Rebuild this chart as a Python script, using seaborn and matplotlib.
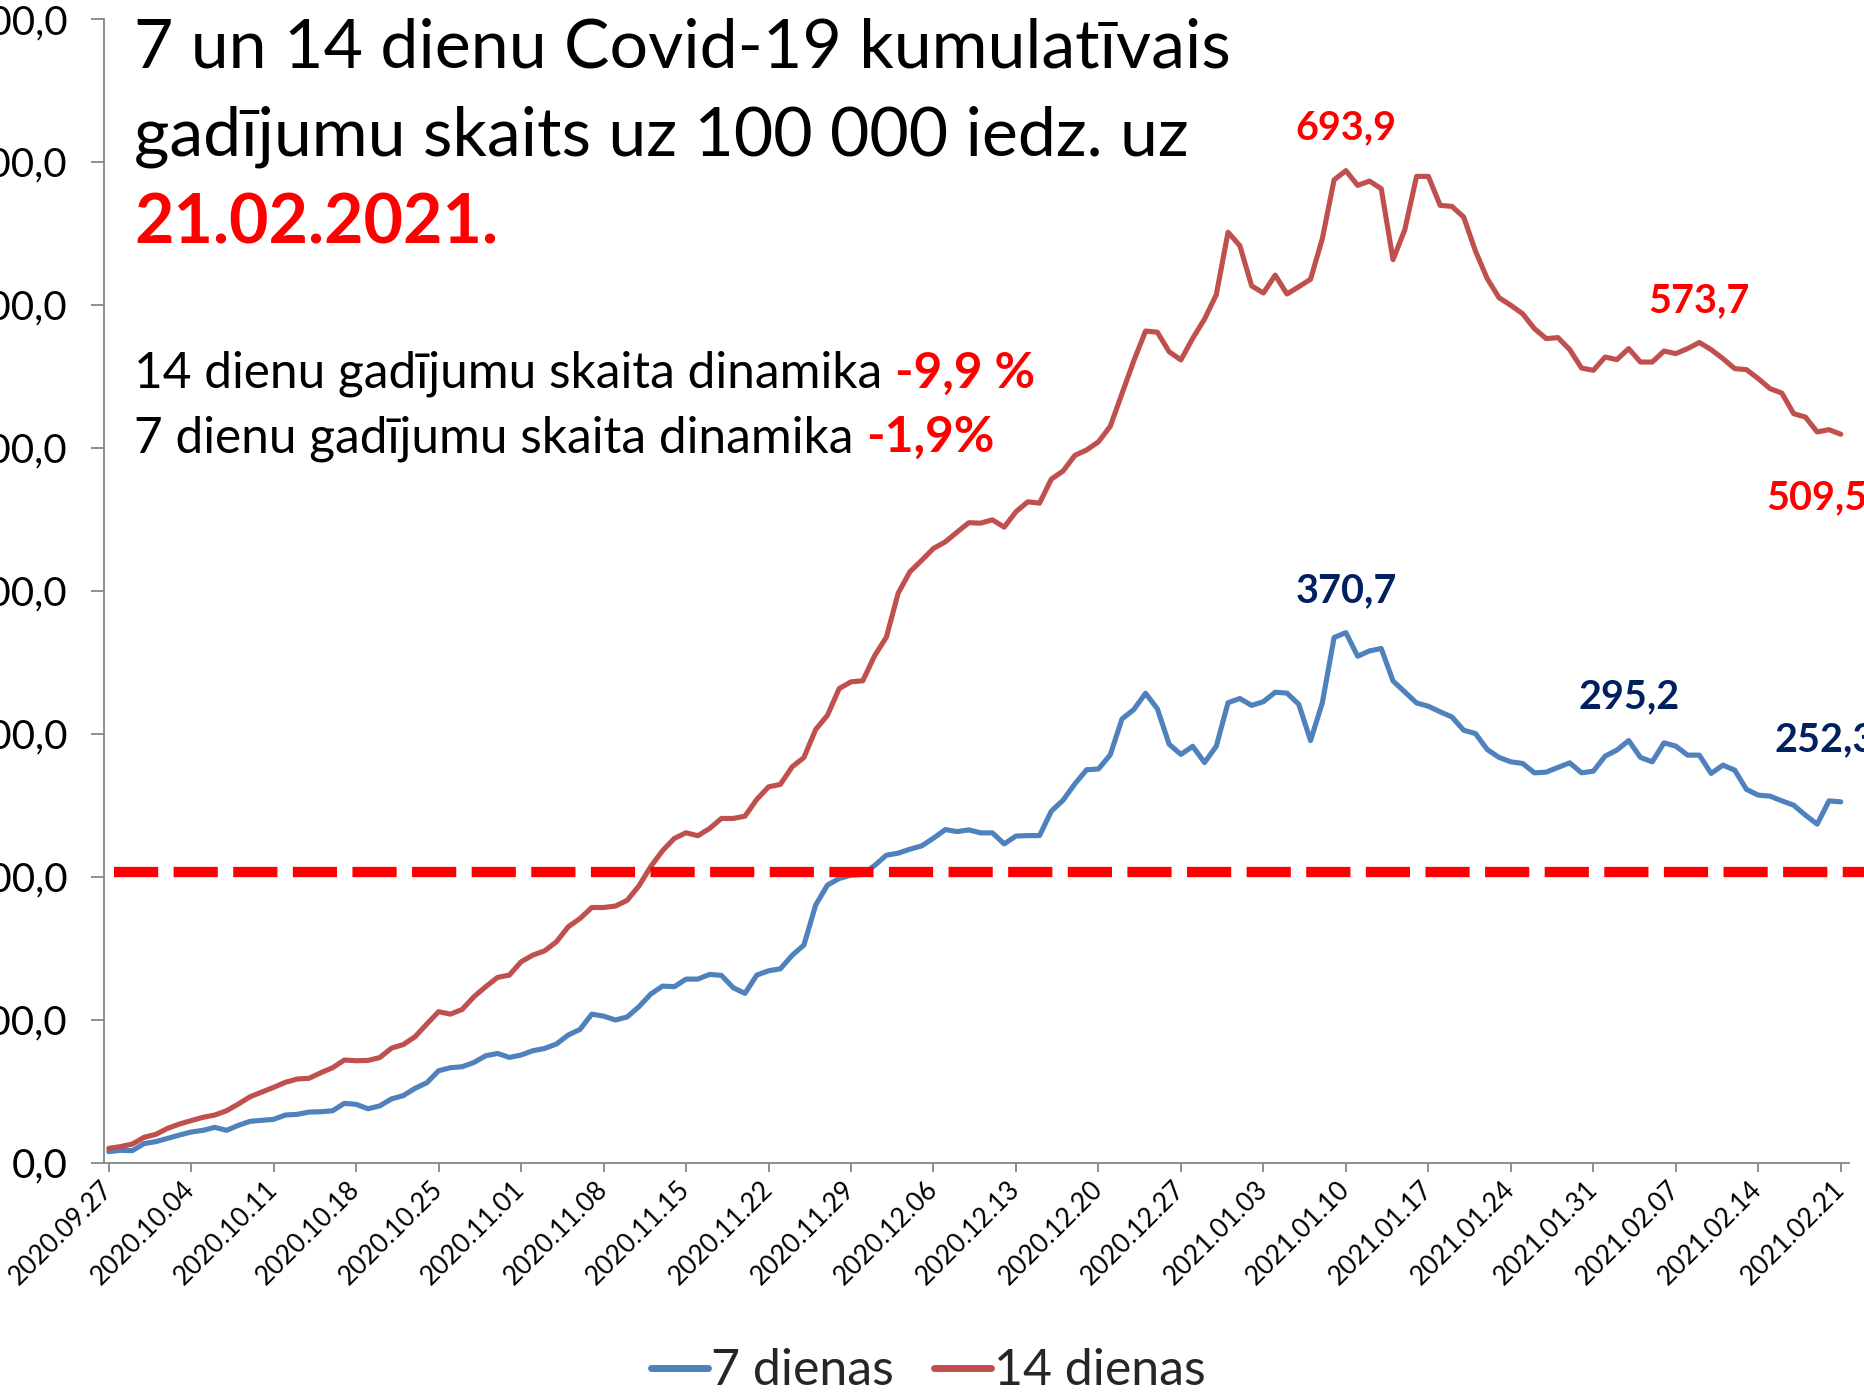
import numpy as np
import pandas as pd
import matplotlib
matplotlib.use("Agg")
import matplotlib.pyplot as plt
import seaborn as sns
from matplotlib.lines import Line2D

# ---------------- data ----------------
tick_labels = ["2020.09.27", "2020.10.04", "2020.10.11", "2020.10.18", "2020.10.25",
               "2020.11.01", "2020.11.08", "2020.11.15", "2020.11.22", "2020.11.29",
               "2020.12.06", "2020.12.13", "2020.12.20", "2020.12.27", "2021.01.03",
               "2021.01.10", "2021.01.17", "2021.01.24", "2021.01.31", "2021.02.07",
               "2021.02.14", "2021.02.21"]

days_7 = [7.6, 8.5, 8.3, 13.2, 14.6, 16.9, 19.2, 21.3, 22.5, 24.6,
          22.5, 26.0, 28.8, 29.5, 30.2, 33.2, 33.7, 35.3, 35.5, 36.2,
          41.4, 40.7, 37.6, 39.6, 44.5, 46.8, 51.9, 55.8, 64.2, 66.3,
          67.0, 70.0, 74.7, 76.3, 73.5, 75.2, 78.2, 79.8, 82.9, 89.2,
          93.1, 103.8, 102.4, 99.7, 101.8, 109.0, 117.8, 123.4, 123.0, 128.3,
          128.3, 131.6, 130.9, 122.3, 118.3, 131.1, 134.1, 135.5, 144.9, 152.1,
          180.1, 194.1, 198.7, 201.0, 201.5, 207.8, 215.0, 216.4, 219.2, 221.5,
          226.9, 232.9, 231.5, 232.7, 230.6, 230.6, 222.9, 228.4, 228.7, 228.7,
          245.8, 253.5, 264.9, 274.8, 275.3, 285.2, 310.3, 316.9, 328.3, 317.4,
          292.6, 285.5, 291.2, 279.8, 291.2, 321.7, 324.6, 319.8, 322.4, 329.0,
          328.4, 320.6, 295.2, 321.6, 367.3, 370.7, 354.2, 357.9, 359.6, 336.9,
          329.2, 321.5, 319.2, 315.3, 311.7, 302.4, 300.1, 288.9, 283.4, 280.3,
          279.2, 272.6, 273.1, 276.4, 279.6, 272.6, 273.8, 284.3, 288.5, 295.2,
          283.4, 280.3, 293.6, 291.3, 285.0, 285.0, 272.2, 278.0, 274.5, 261.0,
          257.0, 256.3, 253.0, 250.0, 243.0, 236.7, 253.0, 252.3]

days_14 = [9.9, 11.1, 12.9, 17.6, 19.7, 23.9, 26.9, 29.3, 31.6, 33.2,
           36.2, 40.9, 46.0, 49.3, 52.6, 56.1, 58.4, 58.9, 62.8, 66.3,
           71.7, 71.2, 71.4, 73.4, 80.0, 82.5, 88.0, 96.9, 105.5, 103.8,
           107.1, 116.0, 123.0, 129.5, 131.1, 140.4, 145.1, 148.1, 154.4, 164.9,
           170.7, 178.4, 178.4, 179.4, 183.4, 193.5, 207.0, 218.1, 226.7, 230.7,
           228.6, 233.7, 240.7, 240.7, 242.3, 254.0, 262.8, 264.5, 276.8, 283.3,
           302.9, 312.9, 331.6, 336.3, 337.0, 354.5, 367.5, 398.2, 413.3, 421.3,
           429.6, 434.2, 441.0, 447.6, 447.3, 449.6, 444.5, 455.3, 462.2, 461.3,
           478.1, 483.8, 494.7, 498.5, 504.2, 515.0, 538.0, 560.9, 581.7, 580.9,
           567.2, 561.5, 576.6, 590.0, 607.1, 650.8, 641.4, 613.3, 608.3, 620.8,
           607.6, 612.7, 617.9, 646.3, 687.5, 693.9, 683.6, 686.6, 681.3, 631.6,
           652.6, 689.9, 689.9, 669.6, 668.9, 661.4, 637.6, 618.3, 605.0, 599.7,
           593.8, 583.4, 576.4, 577.1, 568.7, 555.8, 554.2, 563.5, 561.7, 569.4,
           560.0, 560.0, 567.7, 565.9, 569.4, 573.7, 568.7, 562.4, 555.4, 554.7,
           548.4, 541.4, 538.3, 523.9, 521.5, 511.1, 512.7, 509.5]

series_names = ["7 dienas", "14 dienas"]
threshold = 203
y_ticks = [0, 100, 200, 300, 400, 500, 600, 700, 800]

# labelled points: (day index, text)
labels_7 = [(105, "370,7"), (129, "295,2"), (147, "252,3")]
labels_14 = [(105, "693,9"), (135, "573,7"), (147, "509,5")]

# ---------------- style ----------------
BLUE = "#4F81BD"
RED = "#C0504D"
NAVY = "#002060"
BRIGHT_RED = "#FF0000"
GRAY = "#868686"

sns.set_theme(style="white")
plt.rcParams["font.family"] = ["Lato", "DejaVu Sans"]

W, H, DPI = 1864, 1397, 100
fig = plt.figure(figsize=(W / DPI, H / DPI), dpi=DPI)
ax = fig.add_axes([104 / W, (H - 1162.5) / H, (1849 - 104) / W, (1162.5 - 19) / H])

n = len(days_7)
idx = np.arange(n)
df = pd.DataFrame({
    "day": np.concatenate([idx, idx]),
    "value": np.concatenate([days_7, days_14]),
    "series": [series_names[0]] * n + [series_names[1]] * n,
})
sns.lineplot(data=df, x="day", y="value", hue="series",
             palette={series_names[0]: BLUE, series_names[1]: RED},
             linewidth=3.7, ax=ax, legend=False)
for ln in ax.get_lines():
    ln.set_solid_joinstyle("round")
    ln.set_solid_capstyle("round")

# threshold dashed line
ax.plot([0.0057, 1.02], [threshold, threshold], transform=ax.get_yaxis_transform(),
        color=BRIGHT_RED, linewidth=7.4, linestyle=(0, (4.3, 1.5)),
        solid_capstyle="butt", dash_capstyle="butt", clip_on=False, zorder=5)

ax.set_xlim(-0.4, 147.7)
ax.set_ylim(0, 800)
ax.set_xticks(np.arange(0, n, 7))
ax.set_xticklabels(tick_labels, fontsize=19, rotation=45, ha="right",
                   rotation_mode="anchor", va="center")
ax.set_yticks(y_ticks)
ax.set_yticklabels([f"{v:.1f}".replace(".", ",") for v in y_ticks], fontsize=29)
ax.set_xlabel("")
ax.set_ylabel("")
ax.grid(False)
for s in ["top", "right"]:
    ax.spines[s].set_visible(False)
for s in ["left", "bottom"]:
    ax.spines[s].set_color(GRAY)
    ax.spines[s].set_linewidth(1.3)
ax.tick_params(axis="y", direction="out", length=9.4, width=1.3, color=GRAY, pad=17,
               left=True, labelcolor="black")
ax.tick_params(axis="x", direction="out", length=6.5, width=1.3, color=GRAY, pad=10,
               bottom=True, labelcolor="black")

# data labels
lab_kw = dict(textcoords="offset pixels", ha="center", va="center",
              fontsize=28.5, fontweight="bold", annotation_clip=False)
offs_7 = {105: (0, 42), 129: (0, 44), 147: (-16, 62)}
offs_14 = {105: (0, 43), 135: (0, 42), 147: (-24, -63)}
for i, t in labels_7:
    ax.annotate(t, xy=(i, days_7[i]), xytext=offs_7[i], color=NAVY, **lab_kw)
for i, t in labels_14:
    ax.annotate(t, xy=(i, days_14[i]), xytext=offs_14[i], color=BRIGHT_RED, **lab_kw)

# titles
x0 = 134 / W
fig.text(x0, (H - 68) / H, "7 un 14 dienu Covid-19 kumulatīvais", fontsize=49,
         color="black", va="baseline", ha="left")
fig.text(x0, (H - 156) / H, "gadījumu skaits uz 100 000 iedz. uz", fontsize=49,
         color="black", va="baseline", ha="left")
fig.text(x0, (H - 244) / H, "21.02.2021.", fontsize=49, fontweight="bold",
         color=BRIGHT_RED, va="baseline", ha="left")

fig.canvas.draw()
renderer = fig.canvas.get_renderer()
for base_y, txt, red in [(387.5, "14 dienu gadījumu skaita dinamika ", "-9,9 %"),
                         (452, "7 dienu gadījumu skaita dinamika ", "-1,9%")]:
    t = fig.text(x0, (H - base_y) / H, txt, fontsize=35.7, color="black",
                 va="baseline", ha="left")
    bb = t.get_window_extent(renderer=renderer)
    fig.text(bb.x1 / W, (H - base_y) / H, red, fontsize=35.7, fontweight="bold",
             color=BRIGHT_RED, va="baseline", ha="left")

# legend
handles = [Line2D([], [], color=BLUE, linewidth=5),
           Line2D([], [], color=RED, linewidth=5)]
fig.legend(handles, series_names, loc="center", bbox_to_anchor=(928 / W, 26 / H),
           ncol=2, frameon=False, fontsize=36, handlelength=1.15, handletextpad=0.05,
           columnspacing=0.8, borderaxespad=0, borderpad=0)

fig.savefig("out.png", dpi=DPI, facecolor="white")
